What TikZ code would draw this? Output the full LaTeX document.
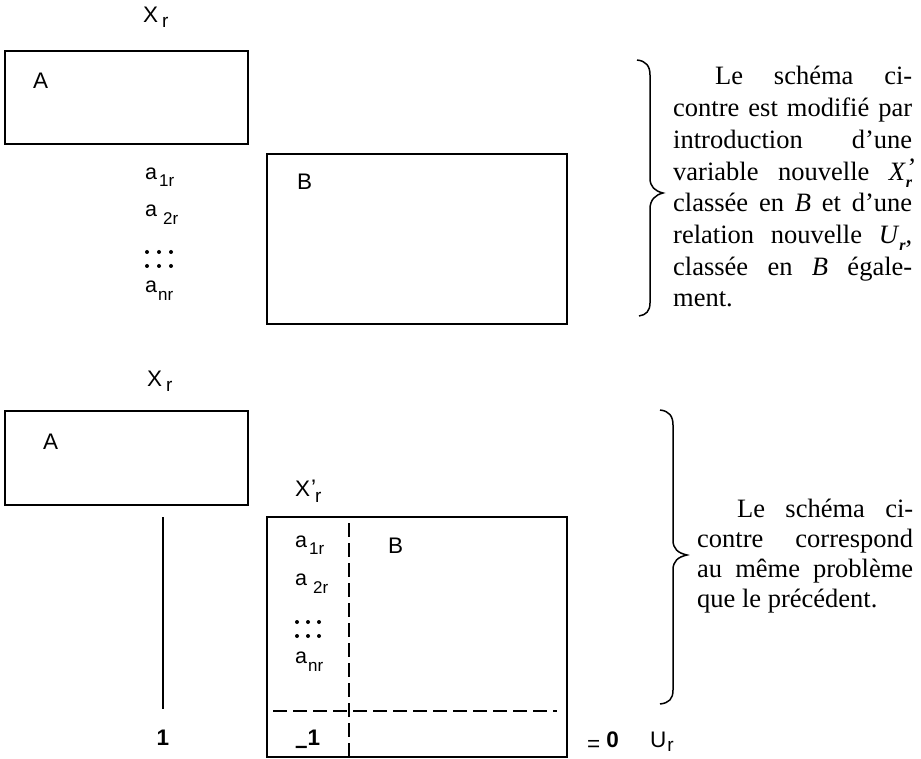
\documentclass[tikz,border=0pt]{standalone}
\usepackage{fontspec}
\setmainfont{Liberation Serif}
\newfontfamily\lsans{Liberation Sans}
\newcommand\subsz{\fontsize{17}{17}\selectfont}
\newcommand\itr{\raisebox{-0.28em}{\fontsize{16}{16}\selectfont\bfseries\itshape r}}
\begin{document}
\begin{tikzpicture}[x=1pt,y=-1pt,
  lab/.style={inner sep=0pt, anchor=base west, font=\lsans\fontsize{21.5}{21.5}\selectfont},
  labc/.style={inner sep=0pt, anchor=base, font=\lsans\fontsize{21.5}{21.5}\selectfont},
  boxline/.style={line width=2.4pt},
  dashline/.style={line width=2.1pt, dash pattern=on 14pt off 6pt},
  brace/.style={line width=1.5pt},
  prose/.style={inner sep=0pt, anchor=base west},
  dotmark/.style={fill=black}]
\useasboundingbox (0,0) rectangle (921,759);
% ---------- upper schema ----------
\node[lab, font=\lsans\fontsize{22.5}{22.5}\selectfont] (xr1) at (143,23) {X\kern4pt\raisebox{-5pt}{\fontsize{19}{19}\selectfont r}};
\draw[boxline] (5,51) rectangle (248,144);
\node[lab, font=\lsans\fontsize{22.5}{22.5}\selectfont] (la1) at (33,89) {A};
\draw[boxline] (267,154) rectangle (567,324);
\node[lab, font=\lsans\fontsize{22.5}{22.5}\selectfont] (lb1) at (297,190) {B};
\node[lab] (a11) at (145,180) {a\kern2pt\raisebox{-7pt}{\subsz 1r}};
\node[lab] (a21) at (145,217) {a\kern6pt\raisebox{-8pt}{\subsz 2r}};
\foreach \xx in {147,159,171} { \fill[dotmark] (\xx,252) circle (2); \fill[dotmark] (\xx,266) circle (2); }
\node[lab] (an1) at (145,293) {a\kern1pt\raisebox{-8pt}{\subsz nr}};
% brace 1
\draw[brace] (637,60) .. controls (646,61) and (650,66) .. (650,75) -- (650,178)
  .. controls (650,187) and (655,191) .. (663,193)
  .. controls (655,195) and (650,200) .. (650,209) -- (650,303)
  .. controls (650,311) and (646,315) .. (639,316);
\node[prose] (t1) at (673,85) {\parbox[t]{239pt}{\fontsize{26.5}{31.7}\selectfont
\makebox[239pt][s]{\hspace*{42pt}Le schéma ci-}\par
\makebox[239pt][s]{contre est modifié par}\par
\makebox[239pt][s]{introduction d’une}\par
\makebox[239pt][s]{variable nouvelle \textit{X}\makebox[0pt][l]{\raisebox{0.12em}{\itshape ’}}\itr}\par
\makebox[239pt][s]{classée en \textit{B} et d’une}\par
\makebox[239pt][s]{relation nouvelle \textit{U}\itr,}\par
\makebox[239pt][s]{classée en \textit{B} égale-}\par
ment.}};
% ---------- lower schema ----------
\node[lab, font=\lsans\fontsize{22.5}{22.5}\selectfont] (xr2) at (147,386) {X\kern4pt\raisebox{-5pt}{\fontsize{19}{19}\selectfont r}};
\draw[boxline] (5,411) rectangle (248,505);
\node[lab, font=\lsans\fontsize{22.5}{22.5}\selectfont] (la2) at (43,449) {A};
\coordinate (v1) at (163,517);
\coordinate (v2) at (163,709);
\draw[line width=2.2pt] (v1) -- (v2);
\node[labc, font=\lsans\bfseries\fontsize{22.5}{22.5}\selectfont] (one) at (163,745) {1};
\node[lab, font=\lsans\fontsize{22.5}{22.5}\selectfont] (xpr) at (295,496) {X\makebox[0pt][l]{\kern1pt\raisebox{1pt}{’}}\kern5pt\raisebox{-6pt}{\fontsize{19}{19}\selectfont r}};
\draw[boxline] (267,517) rectangle (567,757);
\coordinate (dv1) at (349,523);
\coordinate (dv2) at (349,757);
\coordinate (dh1) at (273,711);
\coordinate (dh2) at (557,711);
\draw[dashline] (dv1) -- (dv2);
\draw[dashline] (dh1) -- (dh2);
\node[lab] (a12) at (295,547) {a\kern2pt\raisebox{-7pt}{\subsz 1r}};
\node[lab] (a22) at (295,585) {a\kern6pt\raisebox{-8pt}{\subsz 2r}};
\foreach \xx in {297,308,319} { \fill[dotmark] (\xx,622) circle (2); \fill[dotmark] (\xx,636) circle (2); }
\node[lab] (an2) at (295,663) {a\kern1pt\raisebox{-8pt}{\subsz nr}};
\node[lab, font=\lsans\fontsize{22.5}{22.5}\selectfont] (lb2) at (388,553) {B};
\node[lab, font=\lsans\bfseries\fontsize{22.5}{22.5}\selectfont] (m1) at (295,745) {\raisebox{-8pt}{–}1};
\node[lab, font=\lsans\fontsize{22.5}{22.5}\selectfont] (eq) at (587,747) {\raisebox{-4pt}{=}\kern6pt{\bfseries 0}};
\node[lab, font=\lsans\fontsize{22.5}{22.5}\selectfont] (ur) at (650,747) {U\kern1pt\raisebox{-4pt}{\fontsize{19}{19}\selectfont r}};
% brace 2
\draw[brace] (660,410) .. controls (669,411) and (673,416) .. (673,425) -- (673,540)
  .. controls (673,549) and (678,553) .. (687,555)
  .. controls (678,557) and (673,561) .. (673,570) -- (673,690)
  .. controls (673,699) and (669,703) .. (660,704);
\node[prose] (t2) at (697,517) {\parbox[t]{216pt}{\fontsize{26.5}{30}\selectfont
\makebox[216pt][s]{\hspace*{40pt}Le schéma ci-}\par
\makebox[216pt][s]{contre correspond}\par
\makebox[216pt][s]{au même problème}\par
que le précédent.}};
\end{tikzpicture}
\end{document}
